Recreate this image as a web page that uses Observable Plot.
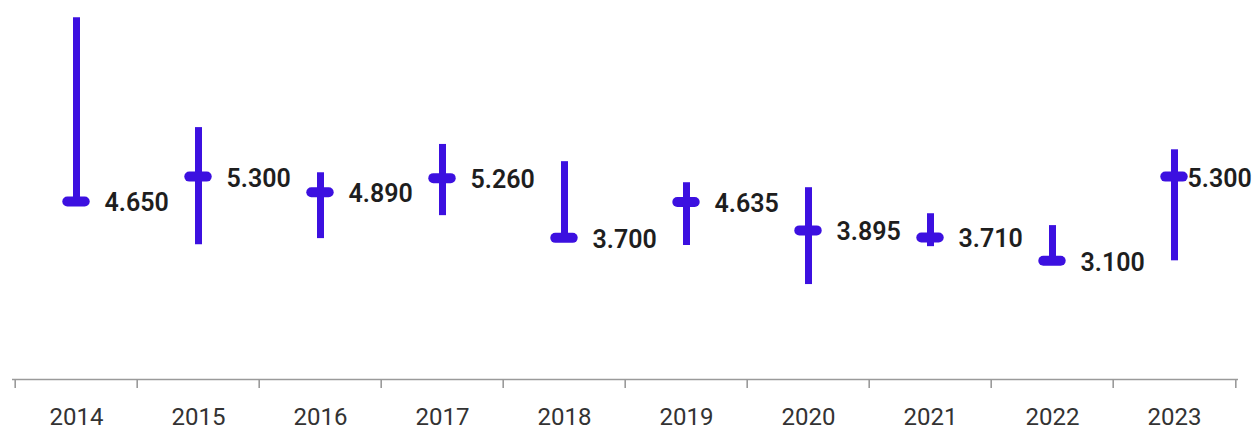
<!DOCTYPE html>
<html>
<head>
<meta charset="utf-8">
<script src="https://cdn.jsdelivr.net/npm/d3@7"></script>
<script src="https://cdn.jsdelivr.net/npm/@observablehq/plot@0.6"></script>
<style>
  html, body { margin: 0; padding: 0; background: #ffffff; }
  #chart svg { display: block; }
</style>
</head>
<body>
<div id="chart"></div>
<script>
// ---- data ----
const years = ["2014", "2015", "2016", "2017", "2018", "2019", "2020", "2021", "2022", "2023"];
const values = [4.650, 5.300, 4.890, 5.260, 3.700, 4.635, 3.895, 3.710, 3.100, 5.300];
const highs  = [9.45, 6.58, 5.40, 6.14, 5.69, 5.14, 5.01, 4.33, 4.02, 6.00];
const lows   = [4.65, 3.52, 3.68, 4.28, 3.60, 3.50, 2.48, 3.47, 3.10, 3.10];
const valueLabels = ["4.650", "5.300", "4.890", "5.260", "3.700", "4.635", "3.895", "3.710", "3.100", "5.300"];

const rows = years.map((year, i) => ({
  year, value: values[i], high: highs[i], low: lows[i], label: valueLabels[i]
}));

const W = 1258, H = 430;
const marginLeft = 12, marginRight = 20;
const bandwidth = (W - marginLeft - marginRight) / years.length;
const color = "#3c10e0";
const lastYear = years[years.length - 1];
const labelStyle = { x: "year", y: "value", text: "label", textAnchor: "start", fontSize: 25, fontWeight: 600, fill: "#1e1e1e", dy: 2 };

const chart = Plot.plot({
  width: W,
  height: H,
  marginLeft,
  marginRight,
  marginTop: 0,
  marginBottom: 51,
  style: { background: "#ffffff", fontFamily: "Roboto, 'DejaVu Sans', sans-serif" },
  x: { domain: years, padding: 0, label: null },
  y: { domain: [0, 9.9], axis: null },
  marks: [
    // baseline axis
    Plot.ruleY([0], { stroke: "#9a9a9a", strokeWidth: 1.6 }),
    // boundary ticks between categories
    Plot.ruleX(years, { x: d => d, dx: -bandwidth / 2, y1: 0, y2: 0, insetBottom: -9, stroke: "#9a9a9a", strokeWidth: 1.6 }),
    Plot.ruleX([lastYear], { x: d => d, dx: bandwidth / 2, y1: 0, y2: 0, insetBottom: -9, stroke: "#9a9a9a", strokeWidth: 1.6 }),
    Plot.axisX({ tickSize: 0, tickPadding: 28, fontSize: 24, color: "#333333", label: null }),
    // high-low range
    Plot.ruleX(rows, { x: "year", y1: "low", y2: "high", stroke: color, strokeWidth: 7 }),
    // value tick
    Plot.tickY(rows, {
      x: "year", y: "value", stroke: color, strokeWidth: 10, strokeLinecap: "round",
      insetLeft: (bandwidth - 18) / 2, insetRight: (bandwidth - 18) / 2
    }),
    // value labels
    Plot.text(rows.filter(d => d.year !== lastYear), { ...labelStyle, dx: 28 }),
    Plot.text(rows.filter(d => d.year === lastYear), { ...labelStyle, dx: 13 })
  ]
});

document.getElementById("chart").appendChild(chart);
</script>
</body>
</html>
